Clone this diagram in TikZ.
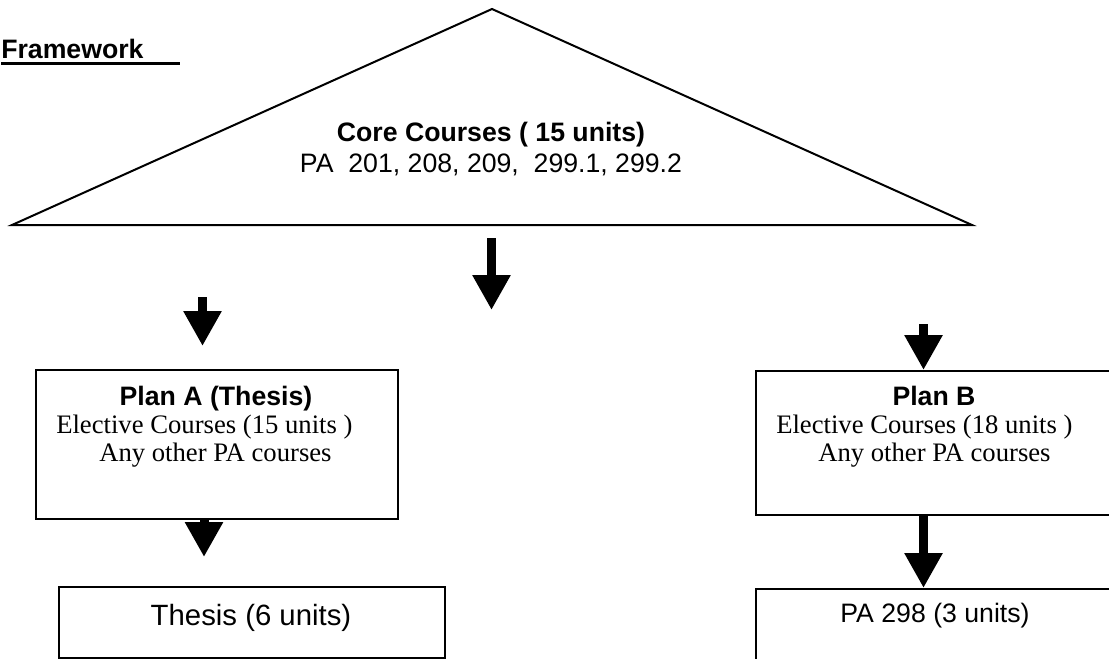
\documentclass[tikz,border=0pt]{standalone}
\usepackage{fontspec}
\setmainfont{Liberation Sans}
\newfontfamily\timesfont{Liberation Serif}
\usetikzlibrary{positioning,arrows.meta}

\begin{document}
\begin{tikzpicture}[x=0.75pt,y=-0.75pt,
  box/.style={rectangle,draw,line width=1.5pt,anchor=north west,inner sep=0pt},
  label/.style={inner sep=0pt,font=\fontsize{20}{24}\selectfont},
  title/.style={label,font=\fontsize{20}{24}\selectfont\bfseries},
  plain/.style={inner sep=0pt,font=\fontsize{20}{24}\selectfont\timesfont,anchor=base west},
  blockarrow/.style={line width=6.75pt,-{Triangle[width=27pt,length=26.25pt]}}
]
  \useasboundingbox (0,0) rectangle (1109,658);
  \clip (0,0) rectangle (1109,658);

  % heading
  \node[title,anchor=base west] (frame) at (1,58) {Framework};
  \draw[line width=2.25pt] ([yshift=-3.75pt]frame.base west) -- ++(179,0);

  % core courses
  \coordinate (left)  at (12,225);
  \coordinate (apex)  at (492,9);
  \coordinate (right) at (972,225);
  \draw[line width=1.5pt] (left) -- (apex) -- (right) -- cycle;
  \node[title,anchor=base] (core) at (491,141) {Core Courses ( 15 units)};
  \node[label,anchor=base] (corelist) at (491,172) {PA\ \ 201, 208, 209,\ \ 299.1, 299.2};

  % plans
  \node[box,minimum width=271.5pt,minimum height=111.75pt] (planA) at (35,369) {};
  \node[box,minimum width=270pt,minimum height=108pt]      (planB) at (755,370) {};
  \node[title,anchor=base] (planAt) at (216,405) {Plan A (Thesis)};
  \node[plain] (planAe) at (56,433) {Elective Courses (15 units )};
  \node[plain] (planAo) at (99,461) {Any other PA courses};
  \node[title,anchor=base] (planBt) at (934,405) {Plan B};
  \node[plain] (planBe) at (776,433) {Elective Courses (18 units )};
  \node[plain] (planBo) at (818,461) {Any other PA courses};

  % final requirement
  \node[box,minimum width=289.5pt,minimum height=53.25pt] (thesis) at (58,586) {};
  \node[box,minimum width=270pt,minimum height=60pt]      (paper)  at (755,588) {};
  \node[label,anchor=base,font=\fontsize{22}{26}\selectfont] (thesist) at (251,625) {Thesis (6 units)};
  \node[label,anchor=base] (papert) at (935,622) {PA 298 (3 units)};

  % arrows
  \coordinate (coreout) at (491.5,238);
  \coordinate (coretip) at (491.5,310);
  \coordinate (inA)     at (202.5,297);
  \coordinate (inAtip)  at (202.5,346);
  \coordinate (inB)     at (923.5,324);
  \coordinate (outAtip) at (204,557);
  \draw[blockarrow] (coreout) -- (coretip);
  \draw[blockarrow] (inA) -- (inAtip);
  \draw[blockarrow] (inB) -- (inB |- planB.north);
  \draw[blockarrow] (outAtip |- planA.south) -- (outAtip);
  \draw[blockarrow] (inB |- planB.south) -- (inB |- paper.north);
\end{tikzpicture}
\end{document}
